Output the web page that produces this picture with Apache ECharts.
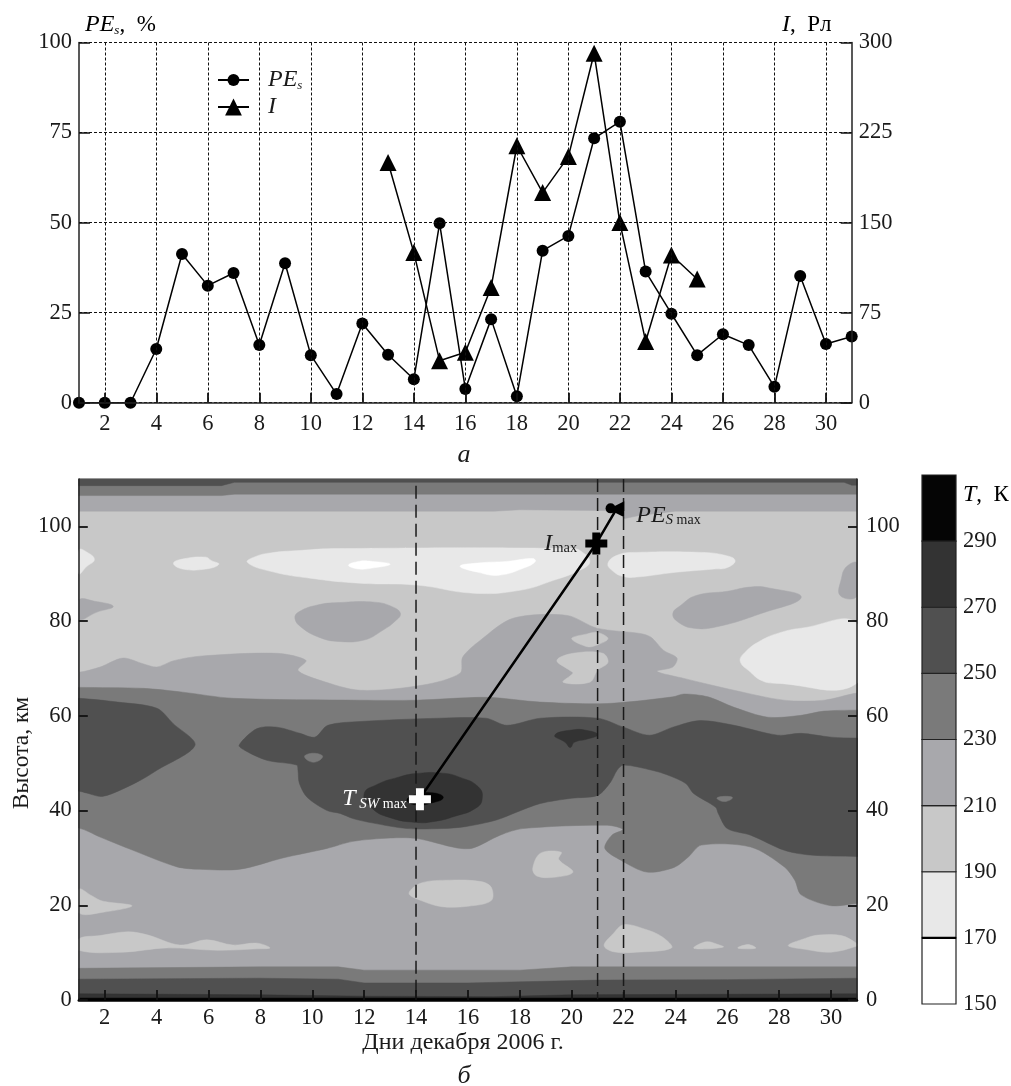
<!DOCTYPE html>
<html><head><meta charset="utf-8">
<style>html,body{margin:0;padding:0;background:#fff}#c{width:1011px;height:1086px}</style>
<script src="https://cdn.jsdelivr.net/npm/echarts@6/dist/echarts.min.js"></script>
</head><body><div id="c"></div>
<script>
// ---------- panel a data ----------
const days = [1,2,3,4,5,6,7,8,9,10,11,12,13,14,15,16,17,18,19,20,21,22,23,24,25,26,27,28,29,30,31];
const peValues = [0,0,0,14.9,41.3,32.5,36,16,38.7,13.2,2.4,22,13.3,6.5,49.8,3.8,23.2,1.8,42.2,46.3,73.4,78,36.4,24.7,13.2,19,16,4.4,35.2,16.3,18.4];
const iDays = [13,14,15,16,17,18,19,20,21,22,23,24,25];
const iValues = [200,125,35,42,96,214,175,205,291,150,51,123,103];
const dayTicks = [2,4,6,8,10,12,14,16,18,20,22,24,26,28,30];
const heightTicks = [0,20,40,60,80,100];
const tempLevels = [150,170,190,210,230,250,270,290];
const tempTop = 310;
// ---------- panel b: events ----------
const eventDays = [14,21,22];
const tswMax = [14.15,42.4];
const iMax = [20.95,96.4];
const peMax = [21.72,103.6];
const peMaxHead = [21.5,103.8];
const path = [[14.15,42.6],[20.95,96.4],[21.72,103.6]];
// ---------- panel b: temperature regions (day, km), lower edge of band as level ----------
const t170 = [
 [[1,95],[1.3,94.6],[1.6,93],[1.3,91.5],[1,90]],
 [[4.65,92.2],[5,93.1],[5.9,93.5],[6.1,92.8],[6.4,92],[5.9,91],[5,91]],
 [[7.5,92.4],[7.8,93.6],[8.4,94.4],[9.5,94.9],[11,95.3],[20,95.3],[20.4,94.6],[20.7,92.5],[20.3,90.7],[19.3,88.6],[18,86.5],[16.2,85.9],[14.04,87.6],[11.84,88],[10,89],[8.4,90.5]],
 [[21.4,92.2],[21.8,94],[22.5,94.5],[25,94.5],[25.9,93.9],[26.3,92.8],[26,91.3],[25.5,91],[24,90.3],[22.5,89.3],[22,89.4],[21.6,90.5]],
 [[26.5,71.5],[26.7,73.5],[27.3,75.9],[28,77.5],[28.85,78.5],[31,79.5],[31,66.9],[27.8,66.9],[27.3,67.5],[26.9,69.2]]
];
const t150 = [
 [[11.4,91.8],[11.8,92.6],[12.3,92.6],[13,92],[12.3,91.2],[11.8,91]],
 [[15.7,91.6],[16.5,92.3],[17.5,92.6],[18.5,93.2],[18.6,92.6],[18.2,91.3],[17.2,89.7],[16.4,90.3]]
];
const t210Upper = [
 [[1,84.4],[1.6,84.2],[2.33,83.1],[1.7,81.9],[1,80.4]],
 [[9.33,80.6],[9.5,82],[10.2,83.4],[11,83.9],[12.4,84],[13.1,83],[13.4,81.6],[13.2,80],[12.7,78],[12,76],[11,75.7],[10.3,76.5],[9.6,78.6]],
 [[23.9,81.6],[24.2,83.3],[24.8,85.4],[26,86.3],[26.9,87.2],[27.6,87],[28.85,85],[27.3,81.6],[25.6,78.8],[24.7,78.5],[24.1,79.8]],
 [[31,92.2],[30.6,91.5],[30.4,89],[30.35,85.4],[31,85.3]]
];
const t210Main = [
 [[1,69.2],[1.82,70.3],[2.7,72.2],[3.47,71],[4.01,70.3],[4.63,71.6],[5.67,72.6],[8.64,73.2],[9.76,71.7],[9.45,69.6],[10.3,67.5],[11.84,65.4],[14.27,66.5],[15.7,69],[15.8,72.4],[16.47,75.9],[17.74,80.6],[19.82,81.2],[20.98,78.5],[22.63,77.4],[23.06,76.6],[23.55,73.8],[24.06,72.2],[23.9,70.3],[23.29,69.4],[24.33,67.9],[26.26,65.4],[28.19,63.3],[29.73,63.3],[31,64.8],[32,64.8],[32,-2],[0,-2],[0,69.2]]
];
const t190Holes = [
 [[20,76.3],[20.6,77.3],[21,77.6],[21.4,76.3],[21,75],[20.6,74.6]],
 [[19.43,71.7],[20.05,73.2],[21.2,73.2],[21.4,71.3],[21,69.6],[20.7,67.1],[19.67,67.1],[20.05,69],[19.95,69.5]],
 [[1,23.4],[1.5,22],[1.9,20.9],[3.05,19.9],[2,18.6],[1,18.4]],
 [[1,12.9],[1.82,13.6],[2.9,14.4],[3.67,13.7],[4.9,11.6],[5.94,12.7],[6.94,11.6],[7.87,12],[8.37,11],[7.87,10.8],[6.33,10.5],[4.4,11],[2.7,10.1],[1,10.5]],
 [[13.73,22.5],[14.2,24.7],[15.3,25.3],[16.5,25],[16.9,23.8],[16.9,21],[16,19.8],[15,19.7],[14.2,21]],
 [[18.5,27.8],[18.8,31],[19.6,31.2],[19.5,29.7],[20.05,27],[19.3,25.9],[18.65,26.2]],
 [[21.25,11.5],[21.6,14],[22,15.9],[22.8,15],[23.5,13.3],[23.85,11],[22.5,10.1],[21.6,10.2]],
 [[24.7,11],[25.2,12.3],[25.7,11.6],[25.85,11.2],[25.2,10.8]],
 [[26.4,11],[26.8,11.7],[27.1,11],[26.8,10.8]],
 [[28.35,11.5],[29,13],[29.5,13.7],[30.4,13.6],[31,11.9],[31,11.4],[30,10.1],[29,10.7]]
];
const t230Main = [
 [[0,66],[1,66],[3.48,65.8],[5,65],[6.94,63.7],[11.84,63.3],[14,63.3],[16.74,63.9],[18.78,62.9],[21.37,62.6],[23.9,64],[24.33,64.6],[25.26,64],[26.26,61.8],[27.57,59.7],[28.84,60.1],[29.73,61],[31,61.2],[32,61.2],
  [32,20.4],[31,20.4],[30,19.9],[28.85,22.2],[28.6,25.3],[28.2,28.1],[26.9,32.3],[25,32.7],[24.5,30.2],[23.95,28],[22.9,27],[21.9,29.5],[21.28,32],[21.55,34.8],[21.98,36],[21.37,36.9],[18.12,36.2],[17.24,34.8],[16.2,32.1],[15.58,32.1],[14.04,34.1],[13,34.2],[11.57,33.5],[10.57,32],[8.87,30],[7.21,27.6],[5.67,27.6],[4.79,28.1],[3.09,31.6],[1.82,34.4],[1,36.3],[0,36.3]]
];
const t250 = [
 [[0,63.7],[1,63.7],[2.5,62.9],[4.01,61.6],[4.63,58.4],[5.48,53.8],[4.01,48.5],[3.24,46],[1.94,43],[1.3,43.7],[1,44.1],[0,44.1]],
 [[7.18,53.8],[7.87,57.3],[8.64,57.6],[9.53,56.3],[10.1,55.5],[10.6,58],[11.84,58.8],[14.9,59.5],[16.7,59.5],[17.5,58],[18.8,59.5],[21,59.5],[22,57.6],[23,55.9],[23.9,57.6],[24.95,59],[26.26,58],[27.95,55.9],[28.84,56.3],[30,55.5],[31,55.3],[32,55.3],
  [32,30.3],[31,30.3],[29.2,30.6],[28.2,31.6],[26.9,34.8],[26,36.2],[25.65,39.4],[25.55,40.7],[24.7,43.6],[24.4,45.7],[23.7,47.5],[23.1,48.5],[22,49.6],[21.75,48.5],[21.5,46],[21,43.2],[20,42.6],[18.8,41.5],[17.9,39.7],[17.1,38],[15.9,36.6],[15,36.2],[13.65,36.2],[12.3,37.4],[11.57,38.3],[11.07,39.4],[10.57,40],[9.8,42.8],[9.5,45.8],[9.45,48.5],[9.4,49.6],[8.25,50.6],[7.4,52.7]]
];
const t230Patches = [
 [[25.6,42.6],[25.9,43],[26.2,42.7],[25.9,41.9]],
 [[9.7,51.4],[10.05,52.1],[10.4,51.4],[10.05,50.2]]
];
const t270 = [
 [[12,43.5],[12.5,45.5],[13.3,47],[14,47.8],[15,47.9],[15.7,47],[16.4,45],[16.55,42.5],[16.3,40.5],[15.5,38.8],[14.7,37.7],[14,37.5],[13,38.5],[12.3,40.5]],
 [[19.35,55.9],[20,57],[20.6,56.9],[21,56],[20.6,55.1],[20.1,54.4],[19.95,53.3],[19.75,54.4]]
];
const t290 = [
 [[13.65,42.2],[14,43.4],[14.7,43.7],[15.05,42.7],[14.6,41.6],[14,41.2]]
];
const bottomStrip230 = [[[1,6.7],[8,7],[11,7],[12,6.3],[18,6.3],[20,7],[31,7],[31,0],[1,0]]];
const bottomStrip250 = [[[1,4.4],[8,4.6],[11,4.4],[12,3.6],[16,3.6],[21,4.2],[26,4.3],[31,4.6],[31,0],[1,0]]];
const bottomStrip270 = [[[1,1.3],[8,1.1],[12,0.8],[17,0.7],[20,1.1],[31,1.3],[31,0],[1,0]]];
const bottomStrip290 = [[[1,0.4],[31,0.4],[31,0],[1,0]]];
const topStrip210 = [[[1,103.2],[17,103.2],[18,103.5],[21.9,103.3],[22,101.6],[22.6,102.3],[24,103.2],[31,103.2],[31,110],[1,110]]];
const topStrip230 = [[[1,106.5],[6.5,106.5],[7,106.8],[31,106.8],[31,110],[1,110]]];
const topStrip250 = [[[1,108.6],[6.5,108.6],[7,109.3],[30.5,109.3],[30.8,108.7],[31,108.7],[31,110],[1,110]]];
const fullField = [[[1,0],[31,0],[31,110],[1,110]]];

const bandColor = {150:'#ffffff',170:'#e8e8e8',190:'#c8c8c8',210:'#a8a8ac',230:'#7a7a7a',250:'#505050',270:'#333333',290:'#050505'};
const paintOrder = [[190,fullField,0],[170,t170,.45],[150,t150,.45],[210,t210Upper,.45],[210,t210Main,.3],[190,t190Holes,.35],[230,t230Main,.3],[250,t250,.3],[230,t230Patches,.45],[270,t270,.5],[290,t290,.5],
  [230,bottomStrip230,0],[250,bottomStrip250,0],[270,bottomStrip270,0],[290,bottomStrip290,0],[210,topStrip210,0],[230,topStrip230,0],[250,topStrip250,0]];
const regions = [];
paintOrder.forEach(([lv,ps,sm])=>ps.forEach(p=>regions.push({lv,p,sm})));

const F='"Liberation Serif","DejaVu Serif",serif', INK='#1a1a1a', FS=22.5;
const plusPath='path://M7,0H15V7H22V15H15V22H7V15H0V7H7Z';
const axisLine=w=>({show:true,onZero:false,lineStyle:{color:'#222',width:w}});
const tick=(vals,len)=>({show:true,inside:true,length:len,customValues:vals,lineStyle:{color:'#111',width:1.8}});
const lab=(vals,m)=>({show:true,customValues:vals,color:INK,fontFamily:F,fontSize:FS,margin:m,hideOverlap:false});
const grid1={left:79,top:42.5,width:772.7,height:360.2};
const grid2={left:78.8,top:479,width:778.2,height:521,show:true,borderColor:'#333',borderWidth:1,backgroundColor:'transparent'};
const grid3={left:922,top:475,width:34,height:529};
const dotted={show:true,lineStyle:{color:'#111',type:[3,2],width:1}};
const subRich={i:{fontFamily:F,fontStyle:'italic',fontSize:24,color:INK},s:{fontFamily:F,fontStyle:'italic',fontSize:13,color:INK,verticalAlign:'bottom',lineHeight:22},r:{fontFamily:F,fontSize:23,color:INK}};
const legendRich={i:{fontFamily:F,fontStyle:'italic',fontSize:24,color:INK,padding:[0,0,0,14]},s:{fontFamily:F,fontStyle:'italic',fontSize:13,color:INK,verticalAlign:'bottom',lineHeight:22}};
const legendFmt=n=>n==='PEs'?'{i|PE}{s|s}':'{i|I}';

const option={
 animation:false,
 grid:[grid1,grid2,grid3],
 legend:[
  {left:212,top:63,itemWidth:31,itemHeight:15,data:['PEs'],formatter:legendFmt,textStyle:{rich:legendRich}},
  {left:212,top:90,itemWidth:31,itemHeight:21,data:['I'],formatter:legendFmt,textStyle:{rich:legendRich}}
 ],
 xAxis:[
  {gridIndex:0,type:'value',min:1,max:31,axisLine:axisLine(1.5),axisTick:tick(dayTicks,10),axisLabel:lab(dayTicks,10),splitLine:dotted,z:10},
  {gridIndex:1,type:'value',min:1,max:31,axisLine:{show:true,onZero:false,lineStyle:{color:'#000',width:2.5}},axisTick:tick(dayTicks,10),axisLabel:lab(dayTicks,7),splitLine:{show:false},z:10},
  {gridIndex:2,type:'value',min:0,max:1,show:false}
 ],
 yAxis:[
  {gridIndex:0,type:'value',min:0,max:100,interval:25,position:'left',axisLine:axisLine(1.5),axisTick:{show:true,inside:true,length:11,lineStyle:{color:'#111',width:1.5}},axisLabel:{color:INK,fontFamily:F,fontSize:FS,margin:7},splitLine:dotted,z:10},
  {gridIndex:0,type:'value',min:0,max:300,interval:75,position:'right',axisLine:axisLine(1.5),axisTick:{show:true,inside:true,length:11,lineStyle:{color:'#111',width:1.5}},axisLabel:{color:INK,fontFamily:F,fontSize:FS,margin:7},splitLine:{show:false},z:10},
  {gridIndex:1,type:'value',min:0,max:110,position:'left',axisLine:axisLine(1.5),axisTick:tick(heightTicks,9),axisLabel:lab(heightTicks,7),splitLine:{show:false},z:10},
  {gridIndex:1,type:'value',min:0,max:110,position:'right',axisLine:axisLine(1.5),axisTick:tick(heightTicks,9),axisLabel:lab(heightTicks,9),splitLine:{show:false},z:10},
  {gridIndex:2,type:'value',min:150,max:tempTop,position:'right',axisLine:{show:false},axisTick:{show:false},axisLabel:{show:true,customValues:tempLevels,color:INK,fontFamily:F,fontSize:FS,margin:7,hideOverlap:false},splitLine:{show:false}}
 ],
 graphic:[
  {type:'text',x:85,y:25,style:{text:'{i|PE}{s|s}{r|,  %}',rich:subRich,verticalAlign:'middle'}},
  {type:'text',x:782,y:25,style:{text:'{i|I}{r|,  Рл}',rich:subRich,verticalAlign:'middle'}},
  {type:'text',x:963,y:495,style:{text:'{i|T}{r|,  К}',rich:subRich,verticalAlign:'middle'}},
  {type:'text',x:464,y:455,style:{text:'а',font:'italic 26px '+F,fill:INK,align:'center',verticalAlign:'middle'}},
  {type:'text',x:464,y:1076,style:{text:'б',font:'italic 26px '+F,fill:INK,align:'center',verticalAlign:'middle'}},
  {type:'text',x:463,y:1043,style:{text:'Дни декабря 2006 г.',font:'24px '+F,fill:INK,align:'center',verticalAlign:'middle'}},
  {type:'text',x:22,y:753,rotation:Math.PI/2,style:{text:'Высота, км',font:'23.5px '+F,fill:INK,align:'center',verticalAlign:'middle'}}
 ],
 series:[
  {name:'PEs',type:'line',xAxisIndex:0,yAxisIndex:0,data:days.map((d,i)=>[d,peValues[i]]),symbol:'circle',symbolSize:12,clip:false,z:5,
   lineStyle:{color:'#000',width:1.5},itemStyle:{color:'#000'}},
  {name:'I',type:'line',xAxisIndex:0,yAxisIndex:1,data:iDays.map((d,i)=>[d,iValues[i]]),symbol:'triangle',symbolSize:17,clip:false,z:5,
   lineStyle:{color:'#000',width:1.5},itemStyle:{color:'#000'}},
  {type:'custom',xAxisIndex:1,yAxisIndex:2,clip:true,z:2,silent:true,
   data:regions.map(r=>[r.p[0][0],r.p[0][1],r.lv]),
   renderItem:(params,api)=>{const r=regions[params.dataIndex];const c=bandColor[r.lv];
     return {type:'polygon',shape:{points:r.p.map(q=>api.coord(q)),smooth:r.sm||undefined},style:{fill:c,stroke:c,lineWidth:.5}};}},
  ...eventDays.map(d=>({type:'line',xAxisIndex:1,yAxisIndex:2,data:[[d,d===14?108.6:110],[d,0]],symbol:'none',z:4,silent:true,
    lineStyle:{color:'#1a1a1a',width:1.5,type:[13,6]}})),
  {type:'line',xAxisIndex:1,yAxisIndex:2,data:path,symbol:'none',z:5,silent:true,lineStyle:{color:'#000',width:2.5}},
  {type:'scatter',xAxisIndex:1,yAxisIndex:2,data:[tswMax],symbol:plusPath,symbolSize:22,z:6,silent:true,itemStyle:{color:'#fff',opacity:1},
   label:{show:true,position:'left',distance:2,formatter:'{i|T}{s| SW}{m| max}',rich:{i:{fontFamily:F,fontStyle:'italic',fontSize:24,color:'#fff'},s:{fontFamily:F,fontStyle:'italic',fontSize:15,color:'#fff',verticalAlign:'bottom',lineHeight:21},m:{fontFamily:F,fontSize:14,color:'#fff',verticalAlign:'bottom',lineHeight:21}}}},
  {type:'scatter',xAxisIndex:1,yAxisIndex:2,data:[iMax],symbol:plusPath,symbolSize:22,z:6,silent:true,itemStyle:{color:'#000',opacity:1},
   label:{show:true,position:'left',distance:8,formatter:'{i|I}{m|max}',rich:{i:{fontFamily:F,fontStyle:'italic',fontSize:24,color:INK},m:{fontFamily:F,fontSize:14.5,color:INK,verticalAlign:'bottom',lineHeight:21}}}},
  {type:'scatter',xAxisIndex:1,yAxisIndex:2,data:[peMaxHead],symbol:'circle',symbolSize:10,z:6,silent:true,itemStyle:{color:'#000',opacity:1}},
  {type:'scatter',xAxisIndex:1,yAxisIndex:2,data:[peMax],symbol:'triangle',symbolSize:16,symbolRotate:90,z:6,silent:true,itemStyle:{color:'#000',opacity:1},
   label:{show:true,position:'right',distance:12,offset:[0,6],formatter:'{i|PE}{s|S}{m| max}',rich:{i:{fontFamily:F,fontStyle:'italic',fontSize:24,color:INK},s:{fontFamily:F,fontStyle:'italic',fontSize:15,color:INK,verticalAlign:'bottom',lineHeight:21},m:{fontFamily:F,fontSize:14,color:INK,verticalAlign:'bottom',lineHeight:21}}}},
  {type:'custom',xAxisIndex:2,yAxisIndex:4,clip:false,z:2,silent:true,
   data:tempLevels.map(v=>[0,v]),
   renderItem:(params,api)=>{const v=tempLevels[params.dataIndex];const hi=tempLevels[params.dataIndex+1]||tempTop;
     const a=api.coord([0,hi]),b=api.coord([1,v]);
     const kids=[{type:'rect',shape:{x:a[0],y:a[1],width:b[0]-a[0],height:b[1]-a[1]},style:{fill:bandColor[v],stroke:'#222',lineWidth:1.2}}];
     if(v===170)kids.push({type:'line',shape:{x1:a[0],y1:b[1],x2:b[0],y2:b[1]},style:{stroke:'#000',lineWidth:2.4}});
     return {type:'group',children:kids};}}
 ]
};
echarts.init(document.getElementById('c'),null,{renderer:'canvas'}).setOption(option);
</script></body></html>
